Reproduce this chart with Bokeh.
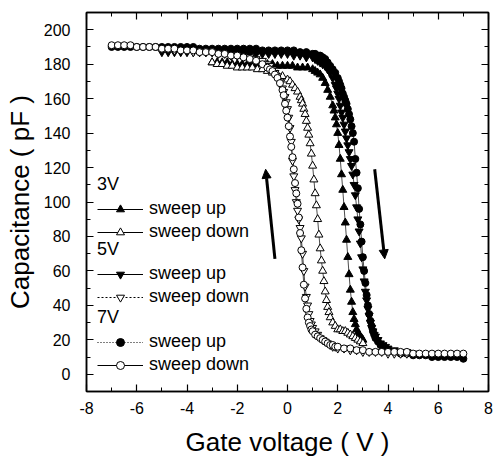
from bokeh.plotting import figure
from bokeh.models import (LinearAxis, Range1d, Legend, LegendItem, Arrow,
                          NormalHead, FixedTicker, CustomLabelingPolicy)
from bokeh.embed import file_html
from bokeh.resources import INLINE

FONT = "Liberation Sans"
NAN = float("nan")

# ---------------- data ----------------
x_ticks = [-8, -6, -4, -2, 0, 2, 4, 6, 8]
x_minor = [-7, -5, -3, -1, 1, 3, 5, 7]
y_ticks = [0, 20, 40, 60, 80, 100, 120, 140, 160, 180, 200]
y_minor = [-10, 10, 30, 50, 70, 90, 110, 130, 150, 170, 190]

# 3V sweep up (filled up-triangles)
v3_up = [-3.0, -2.8, -2.6, -2.4, -2.2, -2.0, -1.8, -1.6, -1.4, -1.2, -1.0,
         -0.8, -0.6, -0.4, -0.2, 0.0, 0.2, 0.4, 0.6, 0.8, 1.0,
         1.1, 1.2, 1.3, 1.4, 1.5, 1.6, 1.7, 1.8,
         1.85, 1.9, 1.95, 2.0, 2.05, 2.1, 2.15, 2.2, 2.25, 2.3, 2.35, 2.4,
         2.45, 2.5, 2.55, 2.6, 2.65, 2.7, 2.75, 2.8, 2.85, 2.9, 2.95, 3.0]
c3_up = [181, 181, 181, 181, 180, 180, 180, 180, 180, 180, 180,
         180, 180, 179, 179, 179, 179, 178, 178, 178, 177,
         176, 175, 174, 172, 169, 165, 161, 156,
         153, 149, 145, 140, 133, 125, 116, 107, 97, 88, 78, 68,
         58, 49, 42, 36, 32, 29, 26, 24, 23, 22, 21, 20]

# 3V sweep down (open up-triangles)
v3_dn = [-3.0, -2.8, -2.6, -2.4, -2.2, -2.0, -1.8, -1.6, -1.4, -1.2, -1.0,
         -0.8, -0.6, -0.4, -0.2, 0.0,
         0.1, 0.2, 0.3, 0.4, 0.5,
         0.55, 0.6, 0.65, 0.7, 0.75, 0.8, 0.85, 0.9, 0.95, 1.0, 1.05, 1.1,
         1.15, 1.2, 1.25, 1.3, 1.35, 1.4, 1.45, 1.5, 1.55, 1.6, 1.65, 1.7,
         1.8, 1.9, 2.0, 2.1, 2.2, 2.3, 2.4, 2.5, 2.6, 2.7, 2.8, 2.9, 3.0]
c3_dn = [181, 180, 180, 179, 179, 178, 178, 178, 178, 177, 177,
         176, 175, 174, 173, 171,
         170, 168, 166, 164, 161,
         159, 157, 154, 151, 147, 143, 139, 134, 128, 121, 113, 105,
         98, 90, 81, 73, 66, 60, 54, 48, 43, 39, 36, 33,
         30, 28, 26, 26, 25, 25, 24, 23, 22, 21, 20, 19, 18]

# 5V sweep up (filled down-triangles)
v5_up = [-5.0, -4.75, -4.5, -4.25, -4.0, -3.75, -3.5, -3.25, -3.0, -2.75,
         -2.5, -2.25, -2.0, -1.75, -1.5, -1.25, -1.0, -0.75, -0.5, -0.25,
         0.0, 0.25, 0.5, 0.75, 1.0,
         1.1, 1.2, 1.3, 1.4, 1.5, 1.6, 1.7, 1.8, 1.9,
         1.95, 2.0, 2.05, 2.1, 2.15, 2.2, 2.25, 2.3, 2.35, 2.4, 2.45, 2.5,
         2.55, 2.6, 2.65, 2.7, 2.75, 2.8, 2.85, 2.9, 2.95, 3.0, 3.05, 3.1,
         3.15, 3.2, 3.25, 3.3, 3.35, 3.4, 3.45, 3.5,
         3.6, 3.7, 3.8, 3.9, 4.0,
         4.25, 4.5, 4.75, 5.0]
c5_up = [187, 187, 187, 187, 187, 187, 187, 187, 187, 187,
         187, 187, 187, 186, 186, 186, 186, 186, 186, 186,
         186, 185, 185, 184, 184,
         183, 182, 181, 180, 179, 177, 175, 172, 168,
         166, 163, 160, 156, 152, 149, 145, 141, 137, 133, 129, 125,
         121, 116, 110, 104, 97, 90, 83, 76, 68, 61, 54, 48,
         43, 38, 34, 30, 27, 25, 23, 22,
         20, 18, 17, 16, 15,
         14, 13, 13, 12]

# 5V sweep down (open down-triangles)
v5_dn = [-5.0, -4.75, -4.5, -4.25, -4.0, -3.75, -3.5, -3.25, -3.0, -2.75,
         -2.5, -2.25, -2.0, -1.75, -1.5, -1.25, -1.0,
         -0.8, -0.7, -0.6, -0.5, -0.4, -0.3, -0.2,
         -0.15, -0.1, -0.05, 0.0, 0.05, 0.1, 0.15, 0.2, 0.25, 0.3, 0.35, 0.4,
         0.45, 0.5, 0.55, 0.6, 0.65, 0.7, 0.75, 0.8, 0.85, 0.9, 0.95, 1.0,
         1.1, 1.2, 1.3, 1.4, 1.5, 1.6, 1.7, 1.8, 1.9, 2.0,
         2.25, 2.5, 2.75, 3.0, 3.25, 3.5, 3.75, 4.0, 4.25, 4.5, 4.75, 5.0]
c5_dn = [189, 189, 188, 188, 188, 187, 187, 187, 187, 186,
         186, 185, 185, 184, 184, 183, 182,
         180, 179, 177, 175, 173, 170, 166,
         164, 161, 158, 154, 149, 143, 135, 124, 115, 107, 100, 95,
         90, 85, 79, 70, 60, 51, 45, 40, 35, 31, 29, 27,
         25, 23, 21, 20, 19, 18, 17, 16, 16, 15,
         15, 14, 14, 13, 13, 13, 13, 12, 12, 12, 12, 12]

# 7V sweep up (filled circles)
v7_up = [-7.0, -6.75, -6.5, -6.25, -6.0, -5.75, -5.5, -5.25, -5.0, -4.75,
         -4.5, -4.25, -4.0, -3.75, -3.5, -3.25, -3.0, -2.75, -2.5, -2.25,
         -2.0, -1.75, -1.5, -1.25, -1.0, -0.75, -0.5, -0.25, 0.0, 0.25,
         0.5, 0.75, 1.0,
         1.1, 1.2, 1.3, 1.4, 1.5, 1.6, 1.7, 1.8, 1.9, 2.0,
         2.05, 2.1, 2.15, 2.2, 2.25, 2.3, 2.35, 2.4, 2.45, 2.5,
         2.55, 2.6, 2.65, 2.7, 2.75, 2.8, 2.85, 2.9, 2.95, 3.0,
         3.05, 3.1, 3.15, 3.2, 3.25, 3.3, 3.35, 3.4, 3.45, 3.5,
         3.6, 3.7, 3.8, 3.9, 4.0,
         4.25, 4.5, 4.75, 5.0, 5.25, 5.5, 5.75, 6.0, 6.25, 6.5, 6.75, 7.0]
c7_up = [190, 190, 190, 190, 190, 190, 190, 190, 190, 190,
         190, 190, 190, 190, 189, 189, 189, 189, 189, 189,
         189, 189, 189, 189, 188, 188, 188, 188, 188, 188,
         187, 187, 186,
         186, 185, 185, 184, 183, 181, 179, 177, 175, 172,
         170, 168, 166, 163, 161, 159, 157, 154, 151, 148,
         144, 140, 135, 125, 117, 108, 96, 87, 77, 68,
         60, 53, 46, 40, 35, 31, 28, 25, 23, 21,
         19, 17, 16, 15, 14,
         13, 12, 12, 11, 11, 11, 10, 10, 10, 10, 10, 9]

# 7V sweep down (open circles)
v7_dn = [-7.0, -6.75, -6.5, -6.25, -6.0, -5.75, -5.5, -5.25, -5.0, -4.75,
         -4.5, -4.25, -4.0, -3.75, -3.5, -3.25, -3.0, -2.75, -2.5, -2.25,
         -2.0, -1.75, -1.5, -1.25, -1.0,
         -0.8, -0.7, -0.6, -0.5, -0.4, -0.3, -0.2,
         -0.15, -0.1, -0.05, 0.0, 0.05, 0.1, 0.15, 0.2, 0.25, 0.3, 0.35, 0.4,
         0.45, 0.5, 0.55, 0.6, 0.65, 0.7, 0.75, 0.8, 0.85, 0.9, 0.95, 1.0,
         1.1, 1.2, 1.3, 1.4, 1.5, 1.6, 1.7, 1.8, 1.9, 2.0,
         2.25, 2.5, 2.75, 3.0, 3.25, 3.5, 3.75, 4.0, 4.25, 4.5,
         4.75, 5.0, 5.25, 5.5, 5.75, 6.0, 6.25, 6.5, 6.75, 7.0]
c7_dn = [191, 191, 191, 191, 190, 190, 190, 190, 189, 189,
         189, 188, 188, 188, 187, 187, 187, 186, 186, 185,
         185, 184, 183, 182, 180,
         178, 177, 176, 174, 172, 169, 165,
         162, 157, 153, 149, 144, 138, 132, 126, 119, 111, 105, 99,
         91, 82, 72, 62, 52, 44, 38, 33, 30, 28, 26, 25,
         23, 22, 21, 20, 19, 18, 17, 17, 16, 16,
         15, 15, 14, 14, 13, 13, 13, 13, 13, 13,
         13, 12, 12, 12, 12, 12, 12, 12, 12, 12]

# direction arrows (data coordinates: start -> end)
arrow_up = [(-0.50, 67), (-0.87, 119)]
arrow_dn = [(3.47, 119), (3.87, 67)]

series = [
    ("3V", "sweep up", v3_up, c3_up, "triangle", True, "solid"),
    ("3V", "sweep down", v3_dn, c3_dn, "triangle", False, "solid"),
    ("5V", "sweep up", v5_up, c5_up, "inverted_triangle", True, "solid"),
    ("5V", "sweep down", v5_dn, c5_dn, "inverted_triangle", False, "2 2"),
    ("7V", "sweep up", v7_up, c7_up, "circle", True, "1 2"),
    ("7V", "sweep down", v7_dn, c7_dn, "circle", False, "solid"),
]
for s in series:
    assert len(s[2]) == len(s[3]), (s[0], s[1], len(s[2]), len(s[3]))

# ---------------- figure ----------------
p = figure(width=493, height=459, x_range=Range1d(-8, 8), y_range=Range1d(-10, 210),
           output_backend="svg", toolbar_location=None,
           min_border_left=86, min_border_right=3, min_border_top=12, min_border_bottom=68,
           x_axis_label="Gate voltage ( V )", y_axis_label="Capacitance ( pF )")
p.xgrid.visible = False
p.ygrid.visible = False
p.outline_line_color = "black"
p.outline_line_width = 1.5
p.background_fill_color = "white"
p.border_fill_color = "white"


def style_axis(ax, ticks, minor, show_labels):
    ax.ticker = FixedTicker(ticks=ticks, minor_ticks=minor)
    ax.axis_line_color = "black"
    ax.axis_line_width = 1.5
    ax.major_tick_in = 7
    ax.major_tick_out = 0
    ax.minor_tick_in = 4
    ax.minor_tick_out = 0
    ax.major_tick_line_color = "black"
    ax.minor_tick_line_color = "black"
    ax.major_tick_line_width = 1.2
    ax.minor_tick_line_width = 1.0
    if show_labels:
        ax.major_label_overrides = {t: str(t) for t in ticks}
        ax.major_label_text_font = FONT
        ax.major_label_text_font_size = "16px"
        ax.major_label_text_color = "black"
        ax.axis_label_text_font = FONT
        ax.axis_label_text_font_size = "26px"
        ax.axis_label_text_font_style = "normal"
        ax.axis_label_text_color = "black"
    else:
        ax.major_label_text_font_size = "1px"
        ax.major_label_standoff = 0
        ax.major_label_policy = CustomLabelingPolicy(code="return []")
        ax.axis_label = None


xa = p.xaxis[0]
ya = p.yaxis[0]
style_axis(xa, x_ticks, x_minor, True)
style_axis(ya, y_ticks, y_minor, True)
xa.major_label_standoff = 10
xa.axis_label_standoff = 10
ya.major_label_standoff = 16
ya.axis_label_standoff = 6

top = LinearAxis()
style_axis(top, x_ticks, x_minor, False)
p.add_layout(top, "above")
right = LinearAxis()
style_axis(right, y_ticks, y_minor, False)
p.add_layout(right, "right")

# ---------------- data glyphs ----------------
filled_first = [s for s in series if s[5]] + [s for s in series if not s[5]]
for grp, lab, xs, ys, mk, filled, dash in filled_first:
    p.line(xs, ys, line_color="black", line_width=0.7)
for grp, lab, xs, ys, mk, filled, dash in filled_first:
    size = 7 if mk == "circle" else 8
    p.scatter(xs, ys, marker=mk, size=size, line_color="black", line_width=1,
              fill_color="black" if filled else "white")

# arrows
for (x0, y0), (x1, y1) in (arrow_up, arrow_dn):
    p.add_layout(Arrow(end=NormalHead(size=9, fill_color="black", line_color="black",
                                      line_width=1),
                       x_start=x0, y_start=y0, x_end=x1, y_end=y1,
                       line_color="black", line_width=3))

# ---------------- legends (three groups) ----------------
legend_pos = {"3V": (11, 149), "5V": (11, 84), "7V": (11, 16)}
groups = {}
for grp, lab, xs, ys, mk, filled, dash in series:
    lr = p.line([NAN], [NAN], line_color="black", line_width=1, line_dash=dash)
    sr = p.scatter([NAN], [NAN], marker=mk, size=13 if mk != "circle" else 12,
                   line_color="black", line_width=1,
                   fill_color="black" if filled else "white")
    groups.setdefault(grp, []).append(LegendItem(label=lab, renderers=[lr, sr]))

for grp, items in groups.items():
    leg = Legend(title=grp, items=items, location=legend_pos[grp])
    leg.title_text_font = FONT
    leg.title_text_font_size = "18px"
    leg.title_text_font_style = "normal"
    leg.title_text_color = "black"
    leg.title_standoff = 3
    leg.label_text_font = FONT
    leg.label_text_font_size = "18px"
    leg.label_text_color = "black"
    leg.glyph_width = 46
    leg.glyph_height = 20
    leg.label_height = 20
    leg.spacing = 2
    leg.padding = 0
    leg.margin = 0
    leg.label_standoff = 6
    leg.border_line_color = None
    leg.background_fill_alpha = 0
    p.add_layout(leg, "center")

open("out.html", "w").write(file_html(p, INLINE))
